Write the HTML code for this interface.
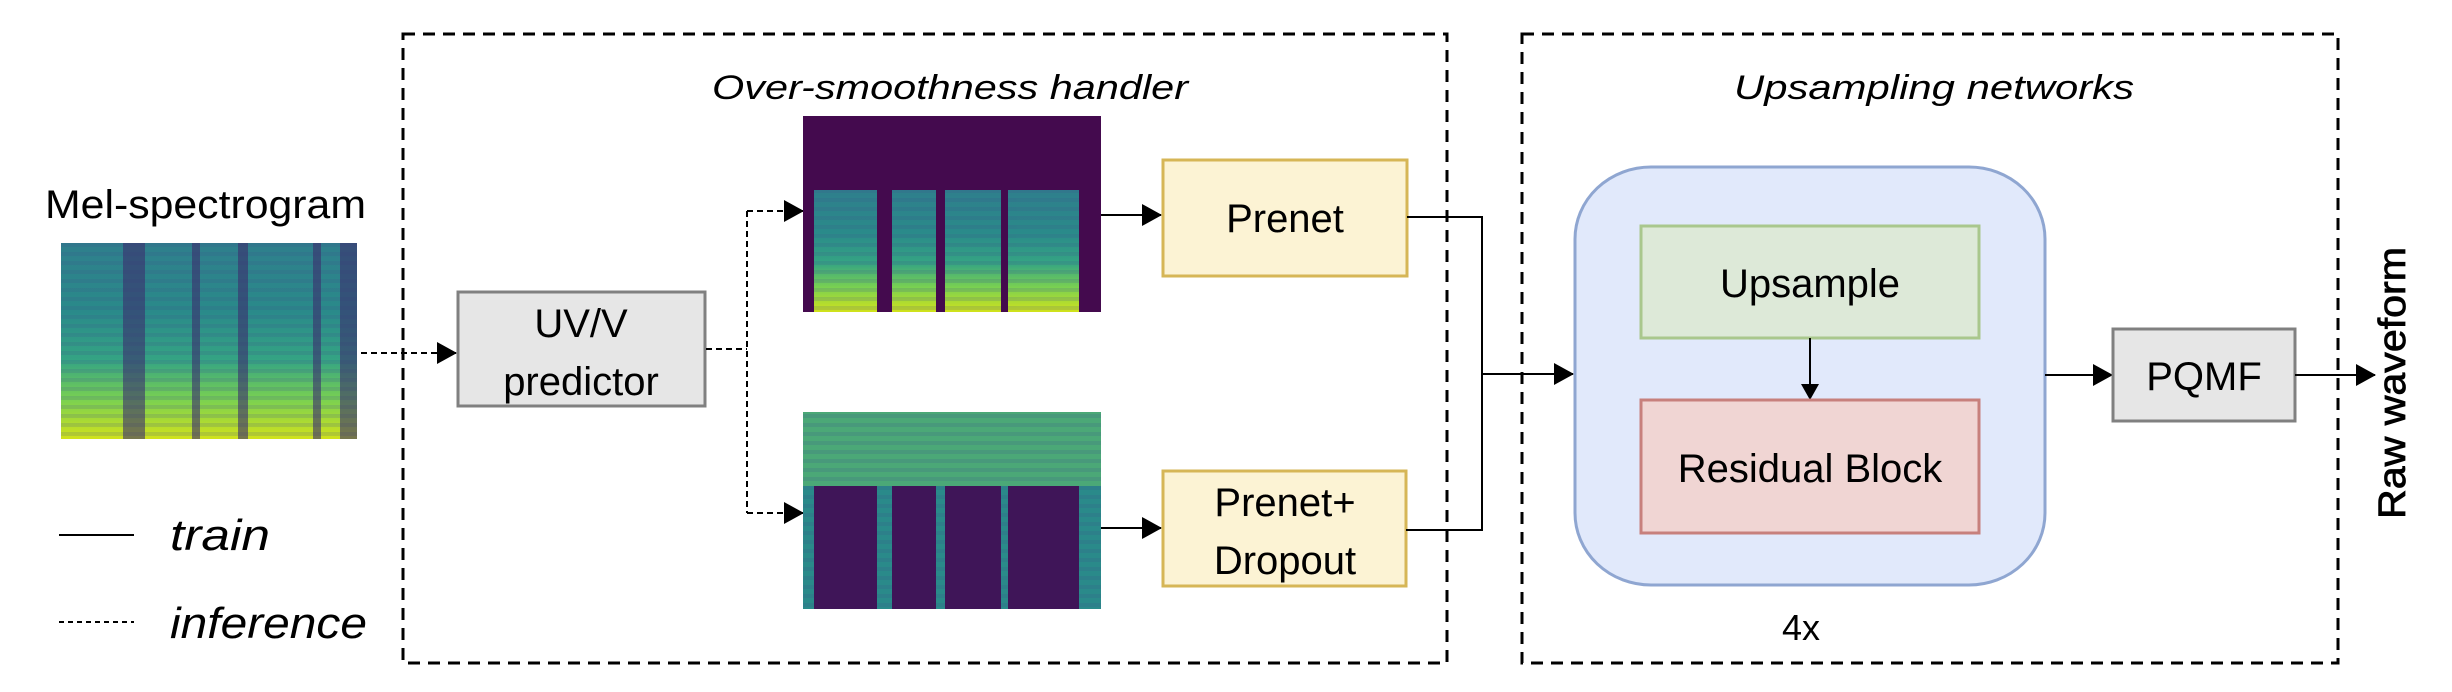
<!DOCTYPE html>
<html><head><meta charset="utf-8"><style>
html,body{margin:0;padding:0;background:#fff;}
svg{display:block;}
text{font-family:"Liberation Sans",sans-serif;fill:#000;}
</style></head><body>
<svg width="2452" height="692" viewBox="0 0 2452 692" xmlns="http://www.w3.org/2000/svg">
<defs>
<linearGradient id="vir" x1="0" y1="0" x2="0" y2="1">
<stop offset="0" stop-color="#2f7f8c"/>
<stop offset="0.35" stop-color="#2a8a8a"/>
<stop offset="0.6" stop-color="#35a483"/>
<stop offset="0.8" stop-color="#7ad151"/>
<stop offset="1" stop-color="#d2e21b"/>
</linearGradient>
<pattern id="hstripe" width="8" height="9" patternUnits="userSpaceOnUse">
<rect width="8" height="4" fill="#3b528b" opacity="0.35"/>
</pattern>
<marker id="ah" markerWidth="20" markerHeight="22" refX="19" refY="11" orient="auto" markerUnits="userSpaceOnUse" viewBox="0 0 20 22">
<path d="M0,0 L20,11 L0,22 z" fill="#000"/>
</marker>
<marker id="ahs" markerWidth="16" markerHeight="18" refX="15" refY="9" orient="auto" markerUnits="userSpaceOnUse" viewBox="0 0 16 18">
<path d="M0,0 L16,9 L0,18 z" fill="#000"/>
</marker>
</defs>

<rect x="403" y="34" width="1044" height="629" fill="none" stroke="#000" stroke-width="3" stroke-dasharray="12,8"/>
<rect x="1522" y="34" width="816" height="629" fill="none" stroke="#000" stroke-width="3" stroke-dasharray="12,8"/>

<text x="950" y="99" font-size="34" font-style="italic" text-anchor="middle" textLength="476" lengthAdjust="spacingAndGlyphs">Over-smoothness handler</text>
<text x="1934" y="99" font-size="34" font-style="italic" text-anchor="middle" textLength="400" lengthAdjust="spacingAndGlyphs">Upsampling networks</text>

<text x="45" y="218" font-size="40" textLength="321" lengthAdjust="spacingAndGlyphs">Mel-spectrogram</text>
<rect x="61" y="243" width="296" height="196" fill="url(#vir)"/>
<rect x="61" y="243" width="296" height="196" fill="url(#hstripe)" opacity="0.5"/>
<g fill="#3b2f6e" opacity="0.6">
<rect x="123" y="243" width="22" height="196"/>
<rect x="192" y="243" width="8" height="196"/>
<rect x="238" y="243" width="10" height="196"/>
<rect x="313" y="243" width="8" height="196"/>
<rect x="340" y="243" width="17" height="196"/>
</g>

<line x1="59" y1="535" x2="134" y2="535" stroke="#000" stroke-width="2"/>
<text x="170" y="550" font-size="44" font-style="italic" textLength="100" lengthAdjust="spacingAndGlyphs">train</text>
<line x1="59" y1="622" x2="134" y2="622" stroke="#000" stroke-width="2" stroke-dasharray="5,4"/>
<text x="170" y="638" font-size="44" font-style="italic" textLength="197" lengthAdjust="spacingAndGlyphs">inference</text>

<line x1="361" y1="353" x2="456" y2="353" stroke="#000" stroke-width="2" stroke-dasharray="6,4" marker-end="url(#ah)"/>
<rect x="458" y="292" width="247" height="114" fill="#e6e6e6" stroke="#808080" stroke-width="3"/>
<text x="581" y="337" font-size="40" text-anchor="middle">UV/V</text>
<text x="581" y="395" font-size="40" text-anchor="middle">predictor</text>

<path d="M706,349 H747 M747,211 V513" stroke="#000" stroke-width="2" stroke-dasharray="6,4" fill="none"/>
<line x1="747" y1="211" x2="803" y2="211" stroke="#000" stroke-width="2" stroke-dasharray="6,4" marker-end="url(#ah)"/>
<line x1="747" y1="513" x2="803" y2="513" stroke="#000" stroke-width="2" stroke-dasharray="6,4" marker-end="url(#ah)"/>

<rect x="803" y="116" width="298" height="196" fill="#440a4e"/>
<g fill="url(#vir)">
<rect x="814" y="190" width="63" height="122"/>
<rect x="892" y="190" width="44" height="122"/>
<rect x="945" y="190" width="56" height="122"/>
<rect x="1008" y="190" width="71" height="122"/>
</g>
<g fill="url(#hstripe)" opacity="0.5">
<rect x="814" y="190" width="63" height="122"/>
<rect x="892" y="190" width="44" height="122"/>
<rect x="945" y="190" width="56" height="122"/>
<rect x="1008" y="190" width="71" height="122"/>
</g>

<rect x="803" y="412" width="298" height="197" fill="#2a8a8a"/>
<rect x="803" y="412" width="298" height="74" fill="#5ab56f" opacity="0.7"/>
<rect x="803" y="412" width="298" height="197" fill="url(#hstripe)" opacity="0.5"/>
<g fill="#3f1558">
<rect x="814" y="486" width="63" height="123"/>
<rect x="892" y="486" width="44" height="123"/>
<rect x="945" y="486" width="56" height="123"/>
<rect x="1008" y="486" width="71" height="123"/>
</g>

<line x1="1101" y1="215" x2="1161" y2="215" stroke="#000" stroke-width="2" marker-end="url(#ah)"/>
<line x1="1101" y1="528" x2="1161" y2="528" stroke="#000" stroke-width="2" marker-end="url(#ah)"/>

<rect x="1163" y="160" width="244" height="116" fill="#fcf3d4" stroke="#d6b656" stroke-width="3"/>
<text x="1285" y="232" font-size="40" text-anchor="middle">Prenet</text>
<rect x="1163" y="471" width="243" height="115" fill="#fcf3d4" stroke="#d6b656" stroke-width="3"/>
<text x="1285" y="516" font-size="40" text-anchor="middle">Prenet+</text>
<text x="1285" y="574" font-size="40" text-anchor="middle">Dropout</text>

<path d="M1407,217 H1482 V530 H1406" stroke="#000" stroke-width="2" fill="none"/>
<line x1="1482" y1="374" x2="1573" y2="374" stroke="#000" stroke-width="2" marker-end="url(#ah)"/>

<rect x="1575" y="167" width="470" height="418" rx="76" ry="72" fill="#e1e9fb" stroke="#8fa6d1" stroke-width="3"/>
<rect x="1641" y="226" width="338" height="112" fill="#dde9d8" stroke="#a9c78d" stroke-width="3"/>
<text x="1810" y="297" font-size="40" text-anchor="middle">Upsample</text>
<line x1="1810" y1="338" x2="1810" y2="399" stroke="#000" stroke-width="2" marker-end="url(#ahs)"/>
<rect x="1641" y="400" width="338" height="133" fill="#f0d5d3" stroke="#c7807c" stroke-width="3"/>
<text x="1810" y="482" font-size="40" text-anchor="middle">Residual Block</text>
<text x="1801" y="640" font-size="36" text-anchor="middle">4x</text>

<line x1="2045" y1="375" x2="2112" y2="375" stroke="#000" stroke-width="2" marker-end="url(#ah)"/>
<rect x="2113" y="329" width="182" height="92" fill="#e6e6e6" stroke="#808080" stroke-width="3"/>
<text x="2204" y="390" font-size="40" text-anchor="middle">PQMF</text>
<line x1="2295" y1="375" x2="2375" y2="375" stroke="#000" stroke-width="2" marker-end="url(#ah)"/>

<text transform="translate(2405,383) rotate(-90)" font-size="38" text-anchor="middle" textLength="272" lengthAdjust="spacingAndGlyphs" stroke="#000" stroke-width="0.8">Raw waveform</text>
</svg>
</body></html>
